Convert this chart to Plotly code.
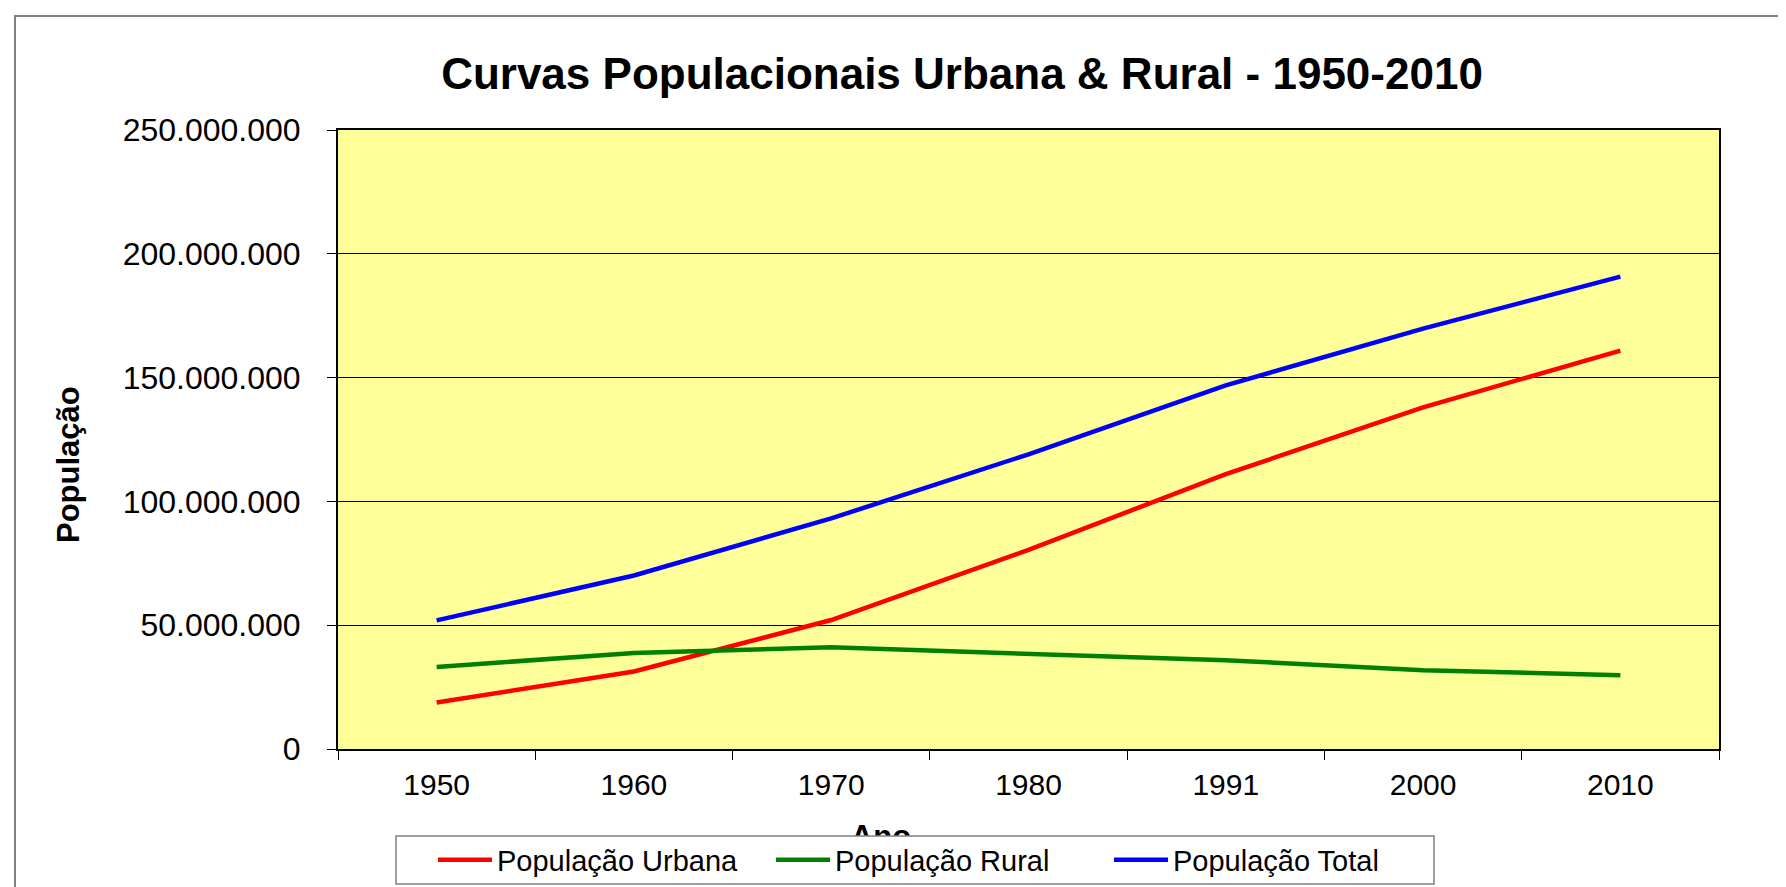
import plotly.graph_objects as go

anos = ["1950", "1960", "1970", "1980", "1991", "2000", "2010"]
pop_urbana = [18782891, 31303034, 52084984, 80436409, 110990990, 137953959, 160925792]
pop_rural = [33161506, 38767423, 41054053, 38566297, 35834485, 31845211, 29830007]
pop_total = [51944397, 70070457, 93139037, 119002706, 146825475, 169799170, 190755799]

W, H = 1786, 887
L, R, T = 330, 1711, 122     # plotting region (paper) spans x L..R, y T..H
PB = 741                     # bottom of the main plot area (pixels)
YMAX = 250000000

def px_x(p):
    return (p - L) / (R - L)

def px_y(p):
    return (H - p) / (H - T)

FONT = "Arial, 'Liberation Sans', sans-serif"

fig = go.Figure()
for name, vals, col in [
    ("População Urbana", pop_urbana, "#FF0000"),
    ("População Rural", pop_rural, "#008000"),
    ("População Total", pop_total, "#0000FF"),
]:
    fig.add_trace(go.Scatter(x=anos, y=vals, name=name, mode="lines",
                             line=dict(color=col, width=4.5)))

# x-axis title "Ano" (partly hidden behind the legend box, as in the original),
# placed on a helper subplot below the main plot
ano_dom = [0, px_y(772)]
ano_x = (873 - L) / ((R - L) / 7) - 0.5
ano_y = (px_y(831) - ano_dom[0]) / (ano_dom[1] - ano_dom[0])
fig.add_trace(go.Scatter(x=[ano_x], y=[ano_y], xaxis="x3", yaxis="y3", mode="text",
                         text=["<b>Ano</b>"], textposition="middle center",
                         textfont=dict(size=31, family=FONT, color="black"),
                         cliponaxis=False, showlegend=False, hoverinfo="skip"))

fig.update_layout(
    width=W, height=H,
    margin=dict(l=L, r=W - R, t=T, b=0, autoexpand=False),
    paper_bgcolor="white",
    plot_bgcolor="rgba(0,0,0,0)",
    separators=",.",
    font=dict(family=FONT, color="black", size=30),
    title=dict(text="<b>Curvas Populacionais Urbana &amp; Rural - 1950-2010</b>",
               font=dict(size=44, family=FONT, color="black"),
               xref="paper", x=px_x(954), xanchor="center",
               yref="container", y=(H - 66) / H, yanchor="middle"),
    xaxis=dict(type="category", range=[-0.5, 6.5], tickson="boundaries",
               ticks="outside", ticklen=9, tickcolor="black", tickwidth=1,
               showline=True, linecolor="black", linewidth=2, mirror=True,
               showgrid=False, tickfont=dict(size=30), ticklabelstandoff=8),
    yaxis=dict(domain=[px_y(PB), 1], range=[0, YMAX], dtick=50000000, tickformat=",d",
               ticks="outside", ticklen=9, tickcolor="black", tickwidth=1,
               showline=True, linecolor="black", linewidth=2, mirror=True,
               showgrid=True, gridcolor="black", gridwidth=1,
               zeroline=False, tickfont=dict(size=32), ticklabelstandoff=20),
    xaxis3=dict(domain=[0, 1], type="linear", range=[-0.5, 6.5], anchor="y3", visible=False),
    yaxis3=dict(domain=ano_dom, range=[0, 1], anchor="x3", visible=False),
    showlegend=True,
    legend=dict(orientation="h", x=px_x(425), y=px_y(852), xanchor="left", yanchor="middle",
                bgcolor="rgba(0,0,0,0)", borderwidth=0,
                font=dict(size=29, family=FONT), itemwidth=54,
                entrywidth=269, entrywidthmode="pixels",
                traceorder="normal"),
)

fig.add_annotation(text="<b>População</b>", xref="paper", yref="paper",
                   x=px_x(60), y=px_y(457), xanchor="center", yanchor="middle",
                   textangle=-90, showarrow=False, font=dict(size=31, family=FONT))

# yellow plot-area background
fig.add_shape(type="rect", xref="paper", yref="paper",
              x0=0, x1=1, y0=px_y(PB), y1=1,
              line=dict(width=0), fillcolor="#FFFF99", layer="below")
# chart-area frame
fig.add_shape(type="rect", xref="paper", yref="paper",
              x0=px_x(7), x1=px_x(1900), y0=px_y(1000), y1=px_y(8),
              line=dict(color="#808080", width=2), fillcolor="rgba(0,0,0,0)", layer="below")
# legend frame
fig.add_shape(type="rect", xref="paper", yref="paper",
              x0=px_x(388), x1=px_x(1426), y0=px_y(876), y1=px_y(828),
              line=dict(color="#808080", width=1.5), fillcolor="white", layer="above")

fig.write_html("out.html")
